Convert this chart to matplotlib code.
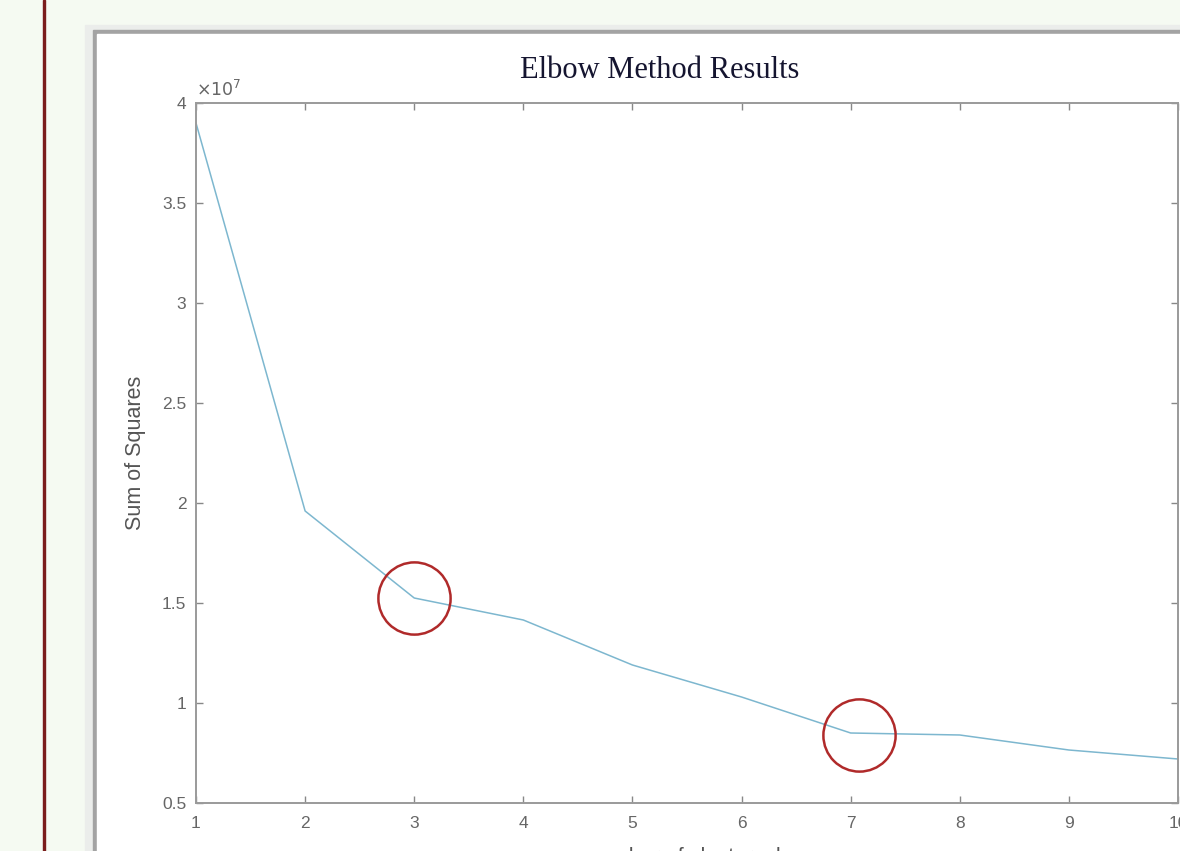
import numpy as np
import matplotlib.pyplot as plt
from matplotlib.patches import Rectangle
from matplotlib.ticker import FuncFormatter

# values
k = [1, 2, 3, 4, 5, 6, 7, 8, 9, 10]
sse = [3.90e7, 1.96e7, 1.525e7, 1.415e7, 1.19e7, 1.03e7, 0.85e7, 0.84e7, 0.765e7, 0.72e7]
circled_k = [3, 7.08]
circled_sse = [1.525e7, 0.84e7]
yticks = [0.5e7, 1e7, 1.5e7, 2e7, 2.5e7, 3e7, 3.5e7, 4e7]

W, H = 1180, 851
fig = plt.figure(figsize=(W / 100, H / 100), dpi=100)
fig.patch.set_facecolor('#f5faf2')

# background layer in pixel coords
bg = fig.add_axes([0, 0, 1, 1])
bg.set_xlim(0, W)
bg.set_ylim(H, 0)
bg.axis('off')
bg.add_patch(Rectangle((43, 0), 2.2, H, color='#7a1c1c'))
bg.add_patch(Rectangle((85, 25), W, H, color='#ebedeb'))
bg.add_patch(Rectangle((93, 30), W, H, color='#a3a3a3'))
bg.add_patch(Rectangle((97, 34), W, H, color='white'))

# main axes
x0, x1, y0, y1 = 196, 1178, 103, 803
ax = fig.add_axes([x0 / W, 1 - y1 / H, (x1 - x0) / W, (y1 - y0) / H])
ax.set_facecolor('white')
ax.plot(k, sse, color='#7db7cf', lw=1.1)
ax.plot(circled_k, circled_sse, 'o', ms=52, mfc='none', mec='#b02a2a', mew=1.8, clip_on=False)

ax.set_xlim(1, 10)
ax.set_ylim(0.5e7, 4e7)
ax.set_xticks(k)
ax.set_yticks(yticks)
ax.yaxis.set_major_formatter(FuncFormatter(lambda v, p: '%g' % (v / 1e7)))
ax.tick_params(direction='in', top=True, right=True, length=5, width=1,
               color='#888888', labelcolor='#666666', labelsize=12.5)
ax.tick_params(axis='x', pad=9)
ax.tick_params(axis='y', pad=7)
for tl in ax.get_xticklabels() + ax.get_yticklabels():
    tl.set_family('Liberation Sans')
for s in ax.spines.values():
    s.set_color('#9a9a9a')
    s.set_linewidth(1.4)

ax.text(0.0, 1.004, r'$\times10^7$', transform=ax.transAxes, ha='left', va='bottom',
        fontsize=12.5, color='#666666')

fig.text(660 / W, 1 - 70 / H, 'Elbow Method Results', ha='center', va='center',
         family='Liberation Serif', fontsize=22, color='#151530')
fig.text(135 / W, 1 - 453 / H, 'Sum of Squares', rotation=90, ha='center', va='center',
         family='Liberation Sans', fontsize=15.5, color='#555555')
fig.text(687 / W, 1 - 858 / H, 'number of clusters, k', ha='center', va='center',
         family='Liberation Sans', fontsize=15.5, color='#555555')

fig.savefig('out.png', dpi=100, facecolor=fig.get_facecolor())
